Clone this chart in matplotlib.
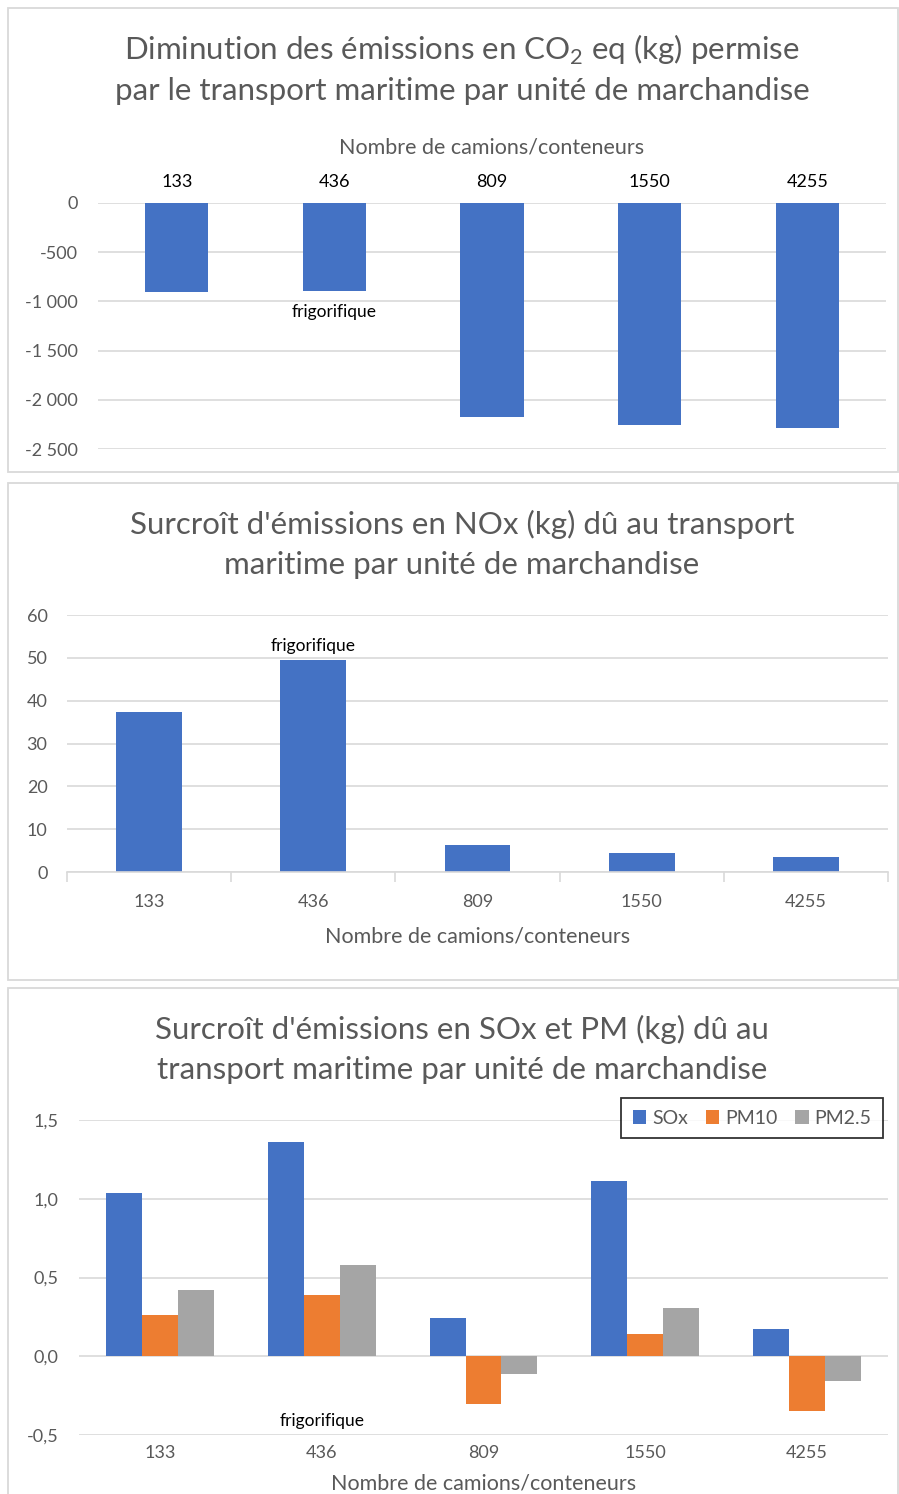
import matplotlib
matplotlib.use("Agg")
import matplotlib.pyplot as plt
from matplotlib.patches import Rectangle
from matplotlib.ticker import FuncFormatter
import numpy as np

plt.rcParams['font.family'] = ['Lato', 'DejaVu Sans']
plt.rcParams['mathtext.fontset'] = 'custom'
plt.rcParams['mathtext.rm'] = 'Lato'

# ---- donnees
camions = ["133", "436", "809", "1550", "4255"]
co2 = [-905, -895, -2175, -2255, -2285]
nox = [37.4, 49.5, 6.3, 4.4, 3.5]
sox = [1.035, 1.36, 0.24, 1.11, 0.17]
pm10 = [0.26, 0.39, -0.30, 0.14, -0.35]
pm25 = [0.42, 0.58, -0.115, 0.305, -0.16]

BLUE = "#4472C4"
ORANGE = "#ED7D31"
GRAY = "#A5A5A5"
GRID = "#D9D9D9"
TXT = "#595959"

W, H = 899, 1494
fig = plt.figure(figsize=(W / 100, H / 100), dpi=100)


def px_axes(x0, y0, x1, y1):
    return fig.add_axes([x0 / W, 1 - y1 / H, (x1 - x0) / W, (y1 - y0) / H])


def frame(y0, y1):
    fig.patches.append(Rectangle((8 / W, 1 - y1 / H), (890 / W), (y1 - y0) / H,
                                 transform=fig.transFigure, fill=False,
                                 edgecolor=GRID, lw=1.3))


def title(lines, y0, x=462):
    for i, t in enumerate(lines):
        fig.text(x / W, 1 - (y0 + 41 * i) / H, t, ha="center", va="center",
                 fontsize=22.5, color=TXT)


def style(ax, pad):
    for s in ax.spines.values():
        s.set_visible(False)
    ax.yaxis.grid(True, color=GRID, lw=1.2)
    ax.set_axisbelow(True)
    ax.tick_params(axis="y", length=0, labelsize=13, labelcolor=TXT, pad=pad)


def fr(v, pos):
    return f"{v:,.0f}".replace(",", "\u202f")


x = np.arange(len(camions))

# ---- panel 1 : CO2
frame(8, 472)
title(["Diminution des émissions en CO$_\\mathregular{2}$ eq (kg) permise",
       "par le transport maritime par unité de marchandise"], 50)
ax1 = px_axes(98, 203, 886, 449)
style(ax1, 14.5)
ax1.bar(x, co2, width=0.4, color=BLUE)
ax1.set_xlim(-0.5, 4.5)
ax1.set_ylim(-2500, 0)
ax1.set_yticks(np.arange(-2500, 1, 500))
ax1.yaxis.set_major_formatter(FuncFormatter(fr))
ax1.xaxis.tick_top()
ax1.set_xticks(x)
ax1.set_xticklabels(camions)
ax1.tick_params(axis="x", length=0, labelsize=13, labelcolor="black", pad=9)
ax1.xaxis.set_label_position("top")
ax1.set_xlabel("Nombre de camions/conteneurs", fontsize=15.5, color=TXT, labelpad=15)
ax1.text(1, -1000 - 110, "frigorifique", ha="center", va="center", fontsize=12.5, color="black")

# ---- panel 2 : NOx
frame(483, 980)
title(["Surcroît d'émissions en NOx (kg) dû au transport",
       "maritime par unité de marchandise"], 524)
ax2 = px_axes(67, 615, 888, 872)
style(ax2, 14)
ax2.bar(x, nox, width=0.4, color=BLUE)
ax2.set_xlim(-0.5, 4.5)
ax2.set_ylim(0, 60)
ax2.set_yticks(np.arange(0, 61, 10))
ax2.spines["bottom"].set_visible(True)
ax2.spines["bottom"].set_color(GRID)
ax2.spines["bottom"].set_linewidth(1.2)
ax2.set_xticks(x)
ax2.set_xticklabels(camions)
ax2.set_xticks(np.arange(-0.5, 5, 1), minor=True)
ax2.tick_params(axis="x", which="major", length=0, labelsize=13, labelcolor=TXT, pad=16)
ax2.tick_params(axis="x", which="minor", length=7, color=GRID, width=1.2)
ax2.set_xlabel("Nombre de camions/conteneurs", fontsize=15.5, color=TXT, labelpad=12)
ax2.text(1, 51, "frigorifique", ha="center", va="bottom", fontsize=12.5, color="black")

# ---- panel 3 : SOx et PM
frame(988, 1500)
title(["Surcroît d'émissions en SOx et PM (kg) dû au",
       "transport maritime par unité de marchandise"], 1029)
ax3 = px_axes(79, 1120, 888, 1435)
style(ax3, 15)
bw = 0.222
ax3.bar(x - bw, sox, width=bw, color=BLUE, label="SOx")
ax3.bar(x, pm10, width=bw, color=ORANGE, label="PM10")
ax3.bar(x + bw, pm25, width=bw, color=GRAY, label="PM2.5")
ax3.set_xlim(-0.5, 4.5)
ax3.set_ylim(-0.5, 1.5)
ax3.set_yticks([-0.5, 0, 0.5, 1.0, 1.5])
ax3.yaxis.set_major_formatter(FuncFormatter(lambda v, p: f"{v:.1f}".replace(".", ",")))
ax3.set_xticks(x)
ax3.set_xticklabels(camions)
ax3.tick_params(axis="x", length=0, labelsize=13, labelcolor=TXT, pad=7)
ax3.set_xlabel("Nombre de camions/conteneurs", fontsize=15.5, color=TXT, labelpad=9)
ax3.text(1, -0.41, "frigorifique", ha="center", va="center", fontsize=12.5, color="black")
leg = ax3.legend(loc="upper right", bbox_to_anchor=(883 / W, 1 - 1098 / H),
                 bbox_transform=fig.transFigure, ncol=3, frameon=True,
                 fancybox=False, edgecolor="black", fontsize=14,
                 handlelength=0.7, handleheight=0.7, handletextpad=0.3,
                 columnspacing=0.9, borderpad=0.6, borderaxespad=0, labelcolor=TXT)
leg.get_frame().set_linewidth(1.3)

fig.savefig("out.png", dpi=100)
